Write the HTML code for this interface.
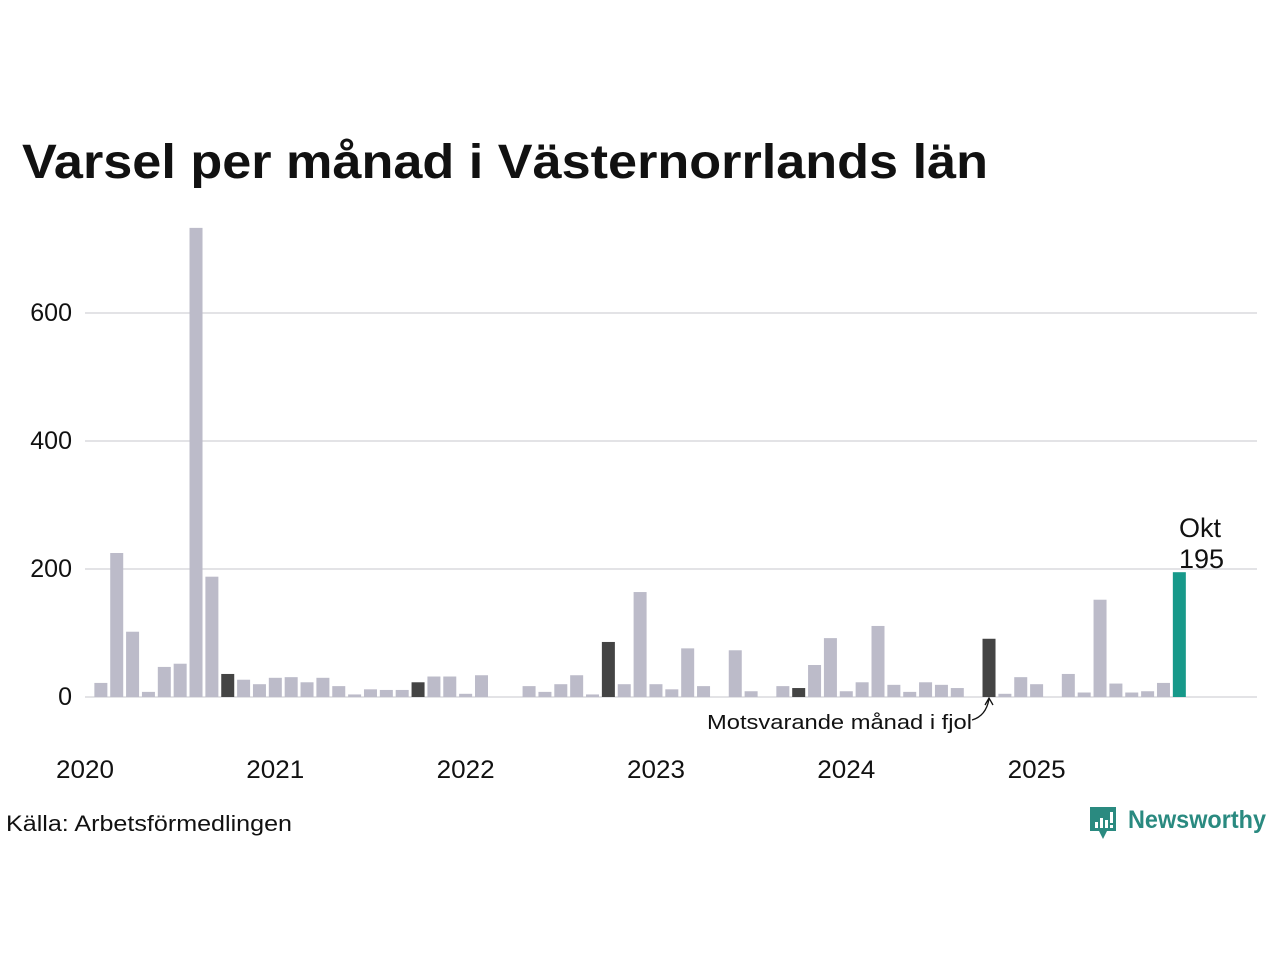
<!DOCTYPE html>
<html><head><meta charset="utf-8"><style>
html,body{margin:0;padding:0;background:#fff;}
svg{display:block;font-family:"Liberation Sans","DejaVu Sans",sans-serif;}
</style></head><body>
<svg id="chart" width="1280" height="960">
<text x="22" y="178" font-size="48" font-weight="bold" fill="#111" textLength="966" lengthAdjust="spacingAndGlyphs">Varsel per månad i Västernorrlands län</text>
<g id="grid"></g>
<g id="bars"></g>
<g id="xlabels"></g>
<text x="707" y="729" font-size="20" fill="#111" textLength="265" lengthAdjust="spacingAndGlyphs">Motsvarande månad i fjol</text>
<path d="M972 720 Q986 716 989 699 M985 705 L989 698 L993 705" stroke="#111" stroke-width="1.3" fill="none"/>
<text x="1179" y="537" font-size="27" fill="#111">Okt</text>
<text x="1179" y="568" font-size="27" fill="#111">195</text>
<text x="6" y="831" font-size="22" fill="#111" textLength="286" lengthAdjust="spacingAndGlyphs">Källa: Arbetsförmedlingen</text>
<g>
<path d="M1090 807 h26 v24 h-9 l-4 8 l-4 -8 h-9 z" fill="#2a8a80"/>
<rect x="1095" y="822" width="3" height="6" fill="#fff"/><rect x="1100" y="818" width="3" height="10" fill="#fff"/><rect x="1105" y="820" width="3" height="8" fill="#fff"/><rect x="1110" y="812" width="3" height="11" fill="#fff"/><rect x="1110" y="825" width="3" height="3" fill="#fff"/>
<text x="1128" y="828" font-size="25" font-weight="bold" fill="#2a8a80" textLength="138" lengthAdjust="spacingAndGlyphs">Newsworthy</text>
</g>
</svg>
<script>
const months = 70;
const values = [0,22,225,102,8,47,52,733,188,36,27,20,
30,31,23,30,17,4,12,11,11,23,32,32,
5,34,0,0,17,8,20,34,4,86,20,164,
20,12,76,17,0,73,9,0,17,14,50,92,
9,23,111,19,8,23,19,14,0,91,5,31,
20,0,36,7,152,21,7,9,22,195];
const yTicks = [0,200,400,600];
const yearLabels = ["2020","2021","2022","2023","2024","2025"];
const NS="http://www.w3.org/2000/svg";
const x0=85, step=15.86, bw=13, yBase=697, k=0.64;
const xs=i=>x0+i*step;
const ys=v=>yBase-v*k;
const grid=document.getElementById('grid');
yTicks.forEach(t=>{
  const l=document.createElementNS(NS,'line');
  l.setAttribute('x1',85);l.setAttribute('x2',1257);
  l.setAttribute('y1',ys(t));l.setAttribute('y2',ys(t));
  l.setAttribute('stroke','#e3e3e6');l.setAttribute('stroke-width','2');
  
  
  grid.appendChild(l);
  const tx=document.createElementNS(NS,'text');
  tx.setAttribute('x',72);tx.setAttribute('y',ys(t)+8);
  tx.setAttribute('text-anchor','end');tx.setAttribute('font-size','25');tx.setAttribute('fill','#111');
  tx.textContent=t;
  
  
  grid.appendChild(tx);
});
const bars=document.getElementById('bars');
const last=values.length-1;
values.forEach((v,i)=>{
  if(v<=0) return;
  const r=document.createElementNS(NS,'rect');
  r.setAttribute('x',xs(i)-bw/2);r.setAttribute('width',bw);
  r.setAttribute('y',ys(v));r.setAttribute('height',v*k);
  let c='#bcbbc9';
  if(i===last) c='#17998a';
  else if(i%12===last%12) c='#444444';
  r.setAttribute('fill',c);
  
  
  bars.appendChild(r);
});
const xl=document.getElementById('xlabels');
yearLabels.forEach((y,j)=>{
  const t=document.createElementNS(NS,'text');
  t.setAttribute('x',xs(j*12));t.setAttribute('y',778);
  t.setAttribute('text-anchor','middle');t.setAttribute('font-size','25');t.setAttribute('fill','#111');
  t.setAttribute('textLength','58');t.setAttribute('lengthAdjust','spacingAndGlyphs');
  t.textContent=y;
  
  
  xl.appendChild(t);
});
</script>
</body></html>
